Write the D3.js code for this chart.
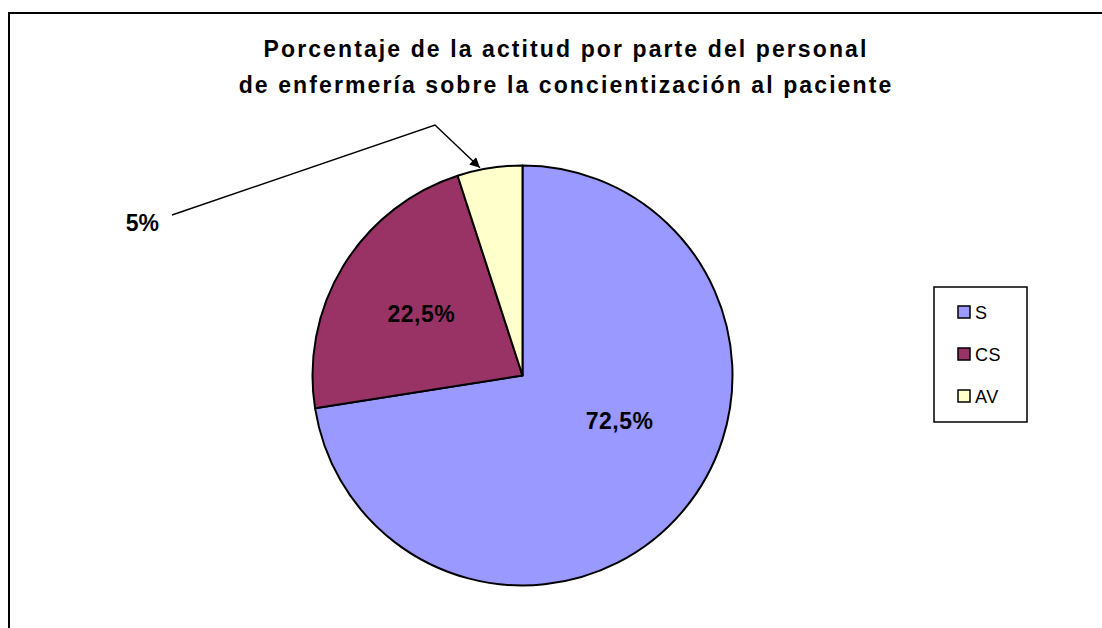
<!DOCTYPE html>
<html>
<head>
<meta charset="utf-8">
<script src="https://cdn.jsdelivr.net/npm/d3@7"></script>
<style>
  body { margin: 0; background: #fff; }
  svg { display: block; font-family: "Liberation Sans", Arial, sans-serif; }
</style>
</head>
<body>
<svg id="chart" width="1102" height="628"></svg>
<script>
const categories = ["S", "CS", "AV"];
const values = [72.5, 22.5, 5];
const labels = ["72,5%", "22,5%", "5%"];
const colors = ["#9999FF", "#993366", "#FFFFCC"];
const titleLines = [
  "Porcentaje de la actitud por parte del personal",
  "de enfermería sobre la concientización al paciente"
];

const svg = d3.select("#chart");
const cx = 522.5;
const cy = 375.5;
const radius = 210;

// outer chart frame (runs past the window on right and bottom)
svg.append("rect")
  .attr("x", 9).attr("y", 13)
  .attr("width", 1200).attr("height", 700)
  .attr("fill", "#fff")
  .attr("stroke", "#000")
  .attr("stroke-width", 2);

svg.append("g")
  .selectAll("text")
  .data(titleLines)
  .join("text")
  .attr("x", 566)
  .attr("y", (d, i) => 57 + i * 36)
  .attr("text-anchor", "middle")
  .attr("font-size", 23)
  .attr("font-weight", "bold")
  .attr("letter-spacing", 2.1)
  .text((d) => d);

const pie = d3.pie().sort(null).value((d) => d);
const arcs = pie(values);
const arc = d3.arc().innerRadius(0).outerRadius(radius);

const g = svg.append("g").attr("transform", `translate(${cx},${cy})`);

g.selectAll("path")
  .data(arcs)
  .join("path")
  .attr("d", arc)
  .attr("fill", (d, i) => colors[i])
  .attr("stroke", "#000")
  .attr("stroke-width", 2)
  .attr("stroke-linejoin", "round");

// inside labels for the two big slices; the big one sits a bit higher
function insidePos(d, i) {
  const r = radius * (i === 0 ? 0.51 : 0.565);
  const a = (d.startAngle + d.endAngle) / 2 - (i === 0 ? 0.27 : 0);
  return [Math.sin(a) * r, -Math.cos(a) * r];
}

g.selectAll("text.inside")
  .data(arcs.slice(0, 2))
  .join("text")
  .attr("class", "inside")
  .attr("transform", (d, i) => `translate(${insidePos(d, i)})`)
  .attr("text-anchor", "middle")
  .attr("dy", "0.35em")
  .attr("font-size", 23)
  .attr("font-weight", "bold")
  .attr("letter-spacing", 0.5)
  .text((d, i) => labels[i]);

// leader line for the small slice
const small = arcs[2];
const mid = (small.startAngle + small.endAngle) / 2;
const tipAngle = mid - 0.045;
const tip = [Math.sin(tipAngle) * (radius + 2), -Math.cos(tipAngle) * (radius + 2)];
const elbow = [435 - cx, 125 - cy];
const start = [172 - cx, 215 - cy];

svg.append("defs").append("marker")
  .attr("id", "arrow")
  .attr("viewBox", "0 0 10 10")
  .attr("refX", 10).attr("refY", 5)
  .attr("markerWidth", 12).attr("markerHeight", 10)
  .attr("markerUnits", "userSpaceOnUse")
  .attr("orient", "auto")
  .append("path")
  .attr("d", "M0,0L10,5L0,10z")
  .attr("fill", "#000");

g.append("path")
  .attr("d", d3.line()([start, elbow, tip]))
  .attr("fill", "none")
  .attr("stroke", "#000")
  .attr("stroke-width", 1.5)
  .attr("marker-end", "url(#arrow)");

g.append("text")
  .attr("x", start[0] - 13)
  .attr("y", start[1] + 16)
  .attr("text-anchor", "end")
  .attr("font-size", 23)
  .attr("font-weight", "bold")
  .text(labels[2]);

// legend
const legend = svg.append("g").attr("transform", "translate(934,287)");
legend.append("rect")
  .attr("width", 93).attr("height", 135)
  .attr("fill", "#fff")
  .attr("stroke", "#000")
  .attr("stroke-width", 1.5);

const items = legend.selectAll("g.item")
  .data(categories)
  .join("g")
  .attr("class", "item")
  .attr("transform", (d, i) => `translate(24,${25 + i * 42})`);

items.append("rect")
  .attr("x", 0).attr("y", -6)
  .attr("width", 12).attr("height", 12)
  .attr("fill", (d, i) => colors[i])
  .attr("stroke", "#000")
  .attr("stroke-width", 1.5);

items.append("text")
  .attr("x", 17)
  .attr("y", 7)
  .attr("font-size", 18)
  .attr("letter-spacing", 0.5)
  .text((d) => d);
</script>
</body>
</html>
